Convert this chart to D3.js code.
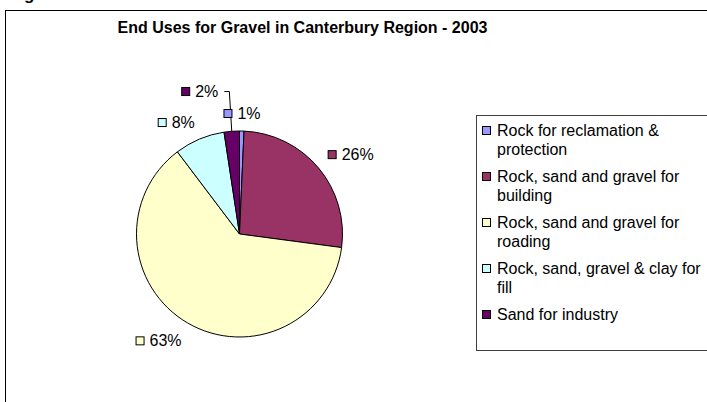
<!DOCTYPE html>
<html><head><meta charset="utf-8">
<script src="https://cdn.jsdelivr.net/npm/d3@7"></script>
<style>html,body{margin:0;padding:0;background:#fff;overflow:hidden}svg{display:block}text{font-family:"Liberation Sans",Arial,sans-serif}</style>
</head><body><svg id="c" width="707" height="402"></svg>
<script>
const title = "End Uses for Gravel in Canterbury Region - 2003";
const categories = ["Rock for reclamation & protection","Rock, sand and gravel for building","Rock, sand and gravel for roading","Rock, sand, gravel & clay for fill","Sand for industry"];
const values = [0.7, 26.4, 62.6, 7.9, 2.4];
const colors = ["#9999FF","#993366","#FFFFCC","#CCFFFF","#660066"];

const svg = d3.select("#c");
// caption fragment above the chart frame (cut off in the reference too)
svg.append("text").attr("x",24).attr("y",0).attr("font-size",17).attr("font-weight","bold").text("g");
// chart frame
svg.append("rect").attr("x",5.5).attr("y",10.5).attr("width",760).attr("height",460).attr("fill","#fff").attr("stroke","#000").attr("stroke-width",1);
svg.append("text").attr("x",302.5).attr("y",33).attr("text-anchor","middle").attr("font-size",16).attr("font-weight","bold").text(title);

const cx = 239.5, cy = 234, r = 103;
const g = svg.append("g").attr("transform",`translate(${cx},${cy})`);
const total = d3.sum(values);
const pie = d3.pie().sort(null).value(d=>d)(values);
const arc = d3.arc().innerRadius(0).outerRadius(r);
g.selectAll("path").data(pie).join("path").attr("d",arc).attr("fill",(d,i)=>colors[i]).attr("stroke","#000").attr("stroke-width",1);

// data labels
const fs = 16, boxH = 12, sq = 8;
const placed = [];
function overlaps(a,b){return a.x<b.x+b.w && b.x<a.x+a.w && a.y<b.y+b.h && b.y<a.y+a.h;}
const lines = svg.append("g");
const lg = svg.append("g");
pie.forEach((d,i)=>{
  const pct = Math.round(values[i]/total*100)+"%";
  const t = lg.append("text").attr("font-size",fs).text(pct);
  const tw = t.node().getComputedTextLength();
  const w = 14 + tw, h = boxH;
  const a = (d.startAngle+d.endAngle)/2;
  const s = Math.sin(a), c = -Math.cos(a);
  const ar = r + 12;
  const ax = cx + ar*s, ay = cy + ar*c;
  const fx = s > 0.1 ? 0 : (s < -0.1 ? 1 : 0.5);
  let bx = ax - fx*w;
  let by = c < 0 ? ay - h : ay + 1;
  let box = {x:bx,y:by,w:w,h:h};
  const hit = placed.find(p=>overlaps(p,box));
  if (hit) {
    // move the label up-left and draw a leader line
    const ex = cx + r*s, ey = cy + r*c;
    const lx = ax - 1.5;
    by = hit.y - h - 10; bx = lx - 11 - w;
    box = {x:bx,y:by,w:w,h:h};
    const my = by + h/2 + 0.5;
    lines.append("path").attr("d",`M${ex},${ey}L${lx},${my}L${bx+w+6},${my}`)
      .attr("fill","none").attr("stroke","#000").attr("stroke-width",1);
  }
  placed.push(box);
  lg.append("rect").attr("x",box.x+0.5).attr("y",box.y+2.5).attr("width",sq).attr("height",sq)
    .attr("fill",colors[i]).attr("stroke","#000").attr("stroke-width",1);
  t.attr("x",box.x+14).attr("y",box.y+h);
});

// legend
const lx0 = 476.5, ly0 = 115.5;
svg.append("rect").attr("x",lx0).attr("y",ly0).attr("width",300).attr("height",235).attr("fill","#fff").attr("stroke","#404040").attr("stroke-width",1);
const maxW = 212, lineH = 19.3, rowGap = 46;
let base = 136;
categories.forEach((cat,i)=>{
  svg.append("rect").attr("x",482.5).attr("y",base-9.5).attr("width",sq).attr("height",sq)
    .attr("fill",colors[i]).attr("stroke","#000").attr("stroke-width",1);
  const t = svg.append("text").attr("font-size",fs).attr("x",497).attr("y",base);
  const words = cat.split(" ");
  let line = [], out = [];
  const tmp = svg.append("text").attr("font-size",fs);
  words.forEach(wd=>{
    const test = line.concat([wd]).join(" ");
    tmp.text(test);
    if (tmp.node().getComputedTextLength() > maxW && line.length){out.push(line.join(" ")); line=[wd];}
    else line.push(wd);
  });
  out.push(line.join(" "));
  tmp.remove();
  out.forEach((ln,j)=>t.append("tspan").attr("x",497).attr("dy",j?lineH:0).text(ln));
  base += rowGap;
});
</script></body></html>
